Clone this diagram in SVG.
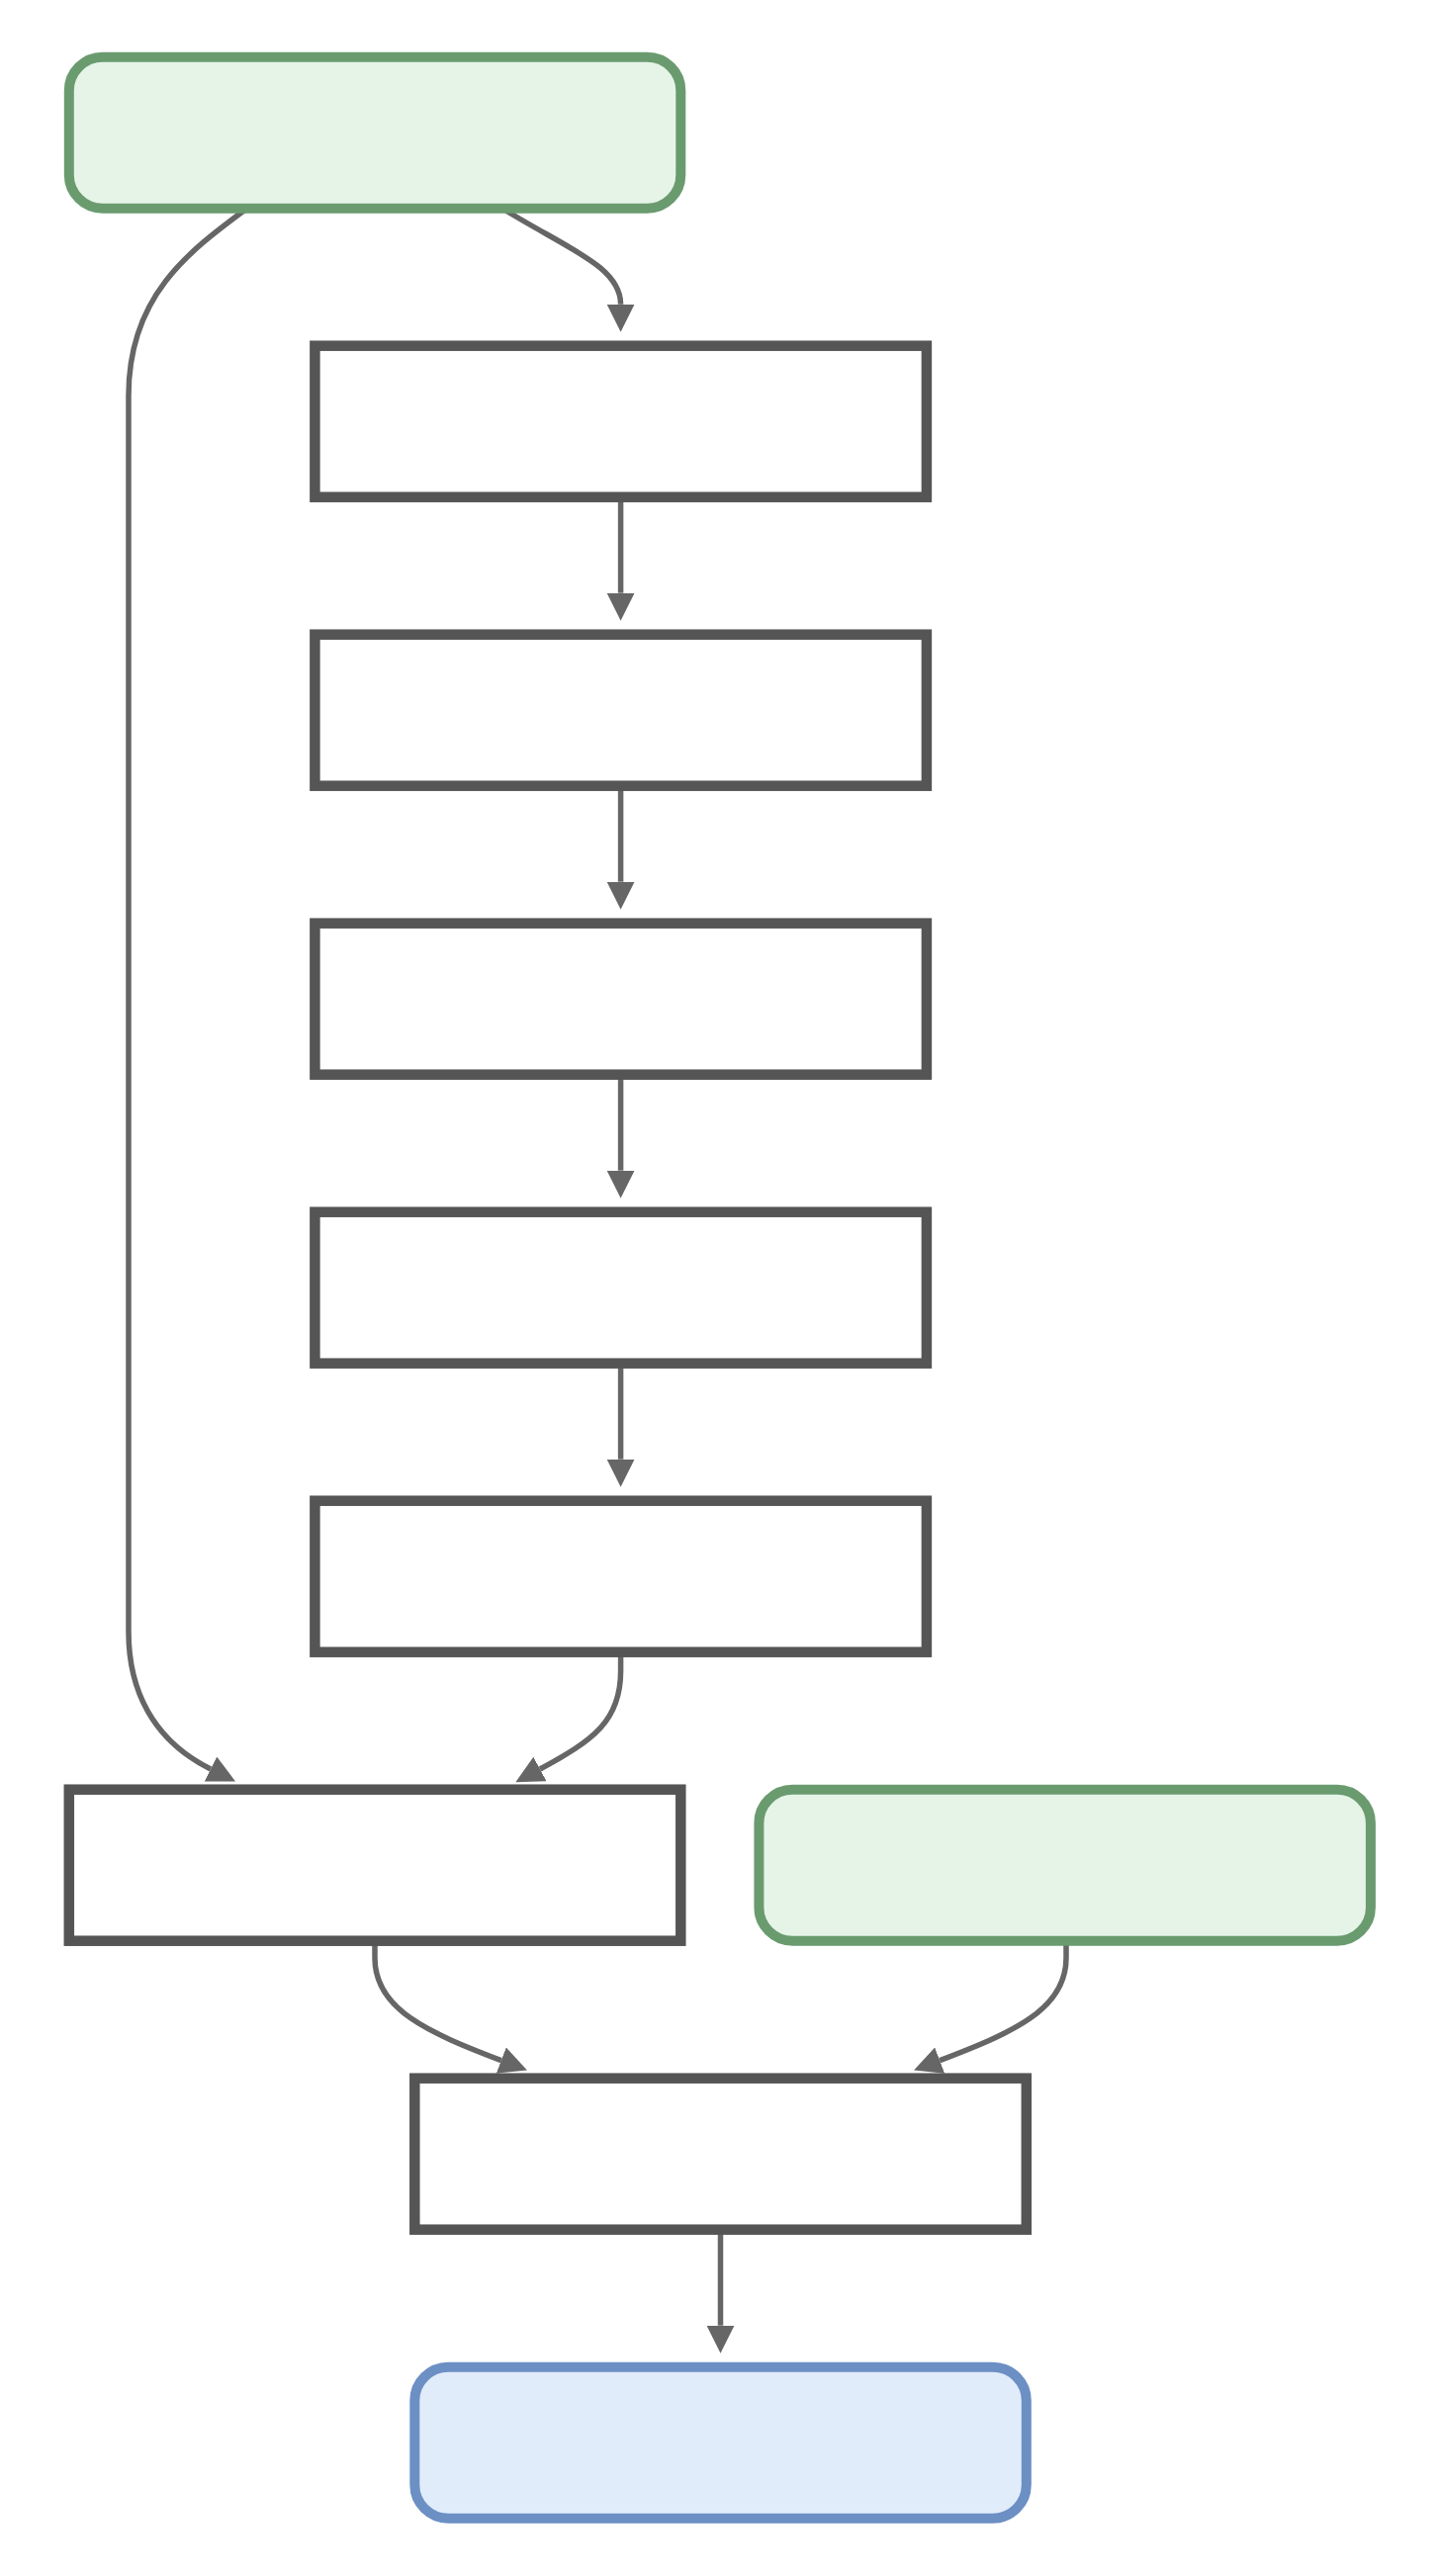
<svg xmlns="http://www.w3.org/2000/svg" width="1456" height="2605" viewBox="0 0 1456 2605">
  <style>
    .edge { fill: none; stroke: #666666; stroke-width: 5.5; }
    .box { fill: #ffffff; stroke: #555555; stroke-width: 10.5; }
    .start { fill: #e6f4e8; stroke: #6a9b6f; stroke-width: 10; }
    .end { fill: #e1ecfa; stroke: #6c8fc4; stroke-width: 10; }
  </style>
  <defs>
    <marker id="arrow" markerUnits="userSpaceOnUse" markerWidth="28" markerHeight="28" viewBox="0 0 28 28" refX="0" refY="14" orient="auto">
      <path d="M0,0 L28,14 L0,28 z" fill="#666666"/>
    </marker>
  </defs>
  <rect x="0" y="0" width="1456" height="2605" fill="#ffffff"/>
  <g id="connectors">
    <path class="edge" marker-end="url(#arrow)" d="M510,212 C575,252 627.6,270 627.6,307.7"/>
    <path class="edge" marker-end="url(#arrow)" d="M248,212 C190,255 130,300 130,400 L130,1650 C130,1710 155,1760 213,1789"/>
    <path class="edge" marker-end="url(#arrow)" d="M627.6,502.7 L627.6,599.7"/>
    <path class="edge" marker-end="url(#arrow)" d="M627.6,794.7 L627.6,891.7"/>
    <path class="edge" marker-end="url(#arrow)" d="M627.6,1086.7 L627.6,1183.7"/>
    <path class="edge" marker-end="url(#arrow)" d="M627.6,1378.7 L627.6,1475.7"/>
    <path class="edge" marker-end="url(#arrow)" d="M627.6,1670.7 L627.6,1690 C627.6,1740 600,1760 546,1789"/>
    <path class="edge" marker-end="url(#arrow)" d="M379,1962.7 L379,1980 C379,2032 432,2055 506.8,2083.6"/>
    <path class="edge" marker-end="url(#arrow)" d="M1078,1962.7 L1078,1980 C1078,2032 1025,2055 950.2,2083.6"/>
    <path class="edge" marker-end="url(#arrow)" d="M728.5,2254.7 L728.5,2351.7"/>
  </g>
  <g id="node-start"><rect class="start" x="69.8" y="57.7" width="618.5" height="153" rx="34" ry="34"/></g>
  <g id="node-a"><rect class="box" x="318.4" y="349.7" width="618.5" height="153"/></g>
  <g id="node-b"><rect class="box" x="318.4" y="641.7" width="618.5" height="153"/></g>
  <g id="node-c"><rect class="box" x="318.4" y="933.7" width="618.5" height="153"/></g>
  <g id="node-d"><rect class="box" x="318.4" y="1225.7" width="618.5" height="153"/></g>
  <g id="node-e"><rect class="box" x="318.4" y="1517.7" width="618.5" height="153"/></g>
  <g id="node-f"><rect class="box" x="69.8" y="1809.7" width="618.5" height="153"/></g>
  <g id="node-start2"><rect class="start" x="767.4" y="1809.7" width="618.5" height="153" rx="34" ry="34"/></g>
  <g id="node-g"><rect class="box" x="419.3" y="2101.7" width="618.5" height="153"/></g>
  <g id="node-end"><rect class="end" x="419.3" y="2393.7" width="618.5" height="153" rx="34" ry="34"/></g>
</svg>
